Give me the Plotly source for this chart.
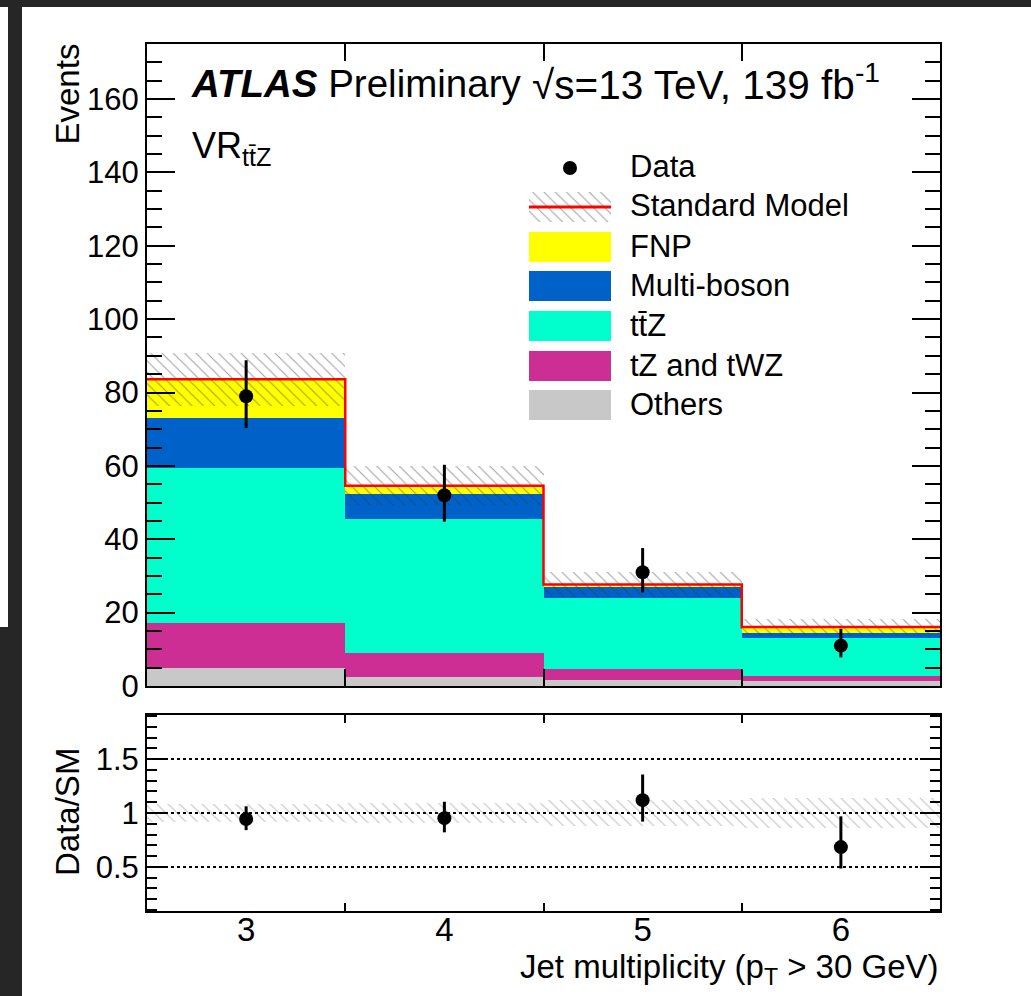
import plotly.graph_objects as go

# ---------------- data ----------------
bins = [3, 4, 5, 6]
bin_labels = ["3", "4", "5", "6"]
others = [5.0, 2.5, 1.6, 1.4]
tz_twz = [12.2, 6.5, 2.9, 1.3]
ttz = [42.2, 36.5, 19.6, 10.4]
multiboson = [13.6, 6.9, 2.9, 1.3]
fnp = [10.6, 2.2, 0.7, 1.7]
sm_unc = [7.2, 5.3, 3.4, 2.3]
data = [79, 52, 31, 11]
data_err_up = [9.8, 8.3, 6.6, 4.6]
data_err_dn = [8.7, 7.2, 5.5, 3.2]

y_ticks = [0, 20, 40, 60, 80, 100, 120, 140, 160]
r_ticks = [0.5, 1, 1.5]
r_tick_labels = ["0.5", "1", "1.5"]

components = [
    ("Others", others, "#c8c8c8"),
    ("tZ and tWZ", tz_twz, "#cc2e94"),
    ("tt\u0304Z", ttz, "#00ffcc"),
    ("Multi-boson", multiboson, "#0062c8"),
    ("FNP", fnp, "#ffff00"),
]

FONT = "Liberation Sans, Arial, Helvetica, sans-serif"
W, H = 1031, 996
L, R, T, B = 147, 91, 44, 85
PW, PH = W - L - R, H - T - B


def px(xp):
    return (xp - L) / PW


def py(yp):
    return (H - B - yp) / PH


fig = go.Figure()

# ---------------- main panel stack ----------------
base = [0.0] * len(bins)
for name, vals, col in components:
    fig.add_trace(go.Bar(x=bins, y=vals, base=list(base), width=1,
                         marker=dict(color=col, line=dict(width=0)),
                         xaxis="x", yaxis="y", showlegend=False, name=name))
    base = [b + v for b, v in zip(base, vals)]
total = base

HATCH_COL = "rgba(50,50,50,0.9)"
hatch = dict(shape="\\", fgcolor=HATCH_COL, bgcolor="rgba(0,0,0,0)",
             size=8, solidity=0.14, fillmode="overlay")

fig.add_trace(go.Bar(x=bins, y=[2 * e for e in sm_unc],
                     base=[t - e for t, e in zip(total, sm_unc)], width=1,
                     marker=dict(color="rgba(0,0,0,0)", line=dict(width=0), pattern=hatch),
                     xaxis="x", yaxis="y", showlegend=False))

edges = [b - 0.5 for b in bins] + [bins[-1] + 0.5]
fig.add_trace(go.Scatter(x=edges, y=total + [total[-1]], mode="lines",
                         line=dict(color="#ff0000", width=2.5, shape="hv"),
                         xaxis="x", yaxis="y", showlegend=False))

fig.add_trace(go.Scatter(x=bins, y=data, mode="markers",
                         marker=dict(color="black", size=14),
                         error_y=dict(type="data", symmetric=False, array=data_err_up,
                                      arrayminus=data_err_dn, color="black",
                                      thickness=3, width=0),
                         xaxis="x", yaxis="y", showlegend=False))

# ---------------- ratio panel ----------------
rel = [e / t for e, t in zip(sm_unc, total)]
fig.add_trace(go.Bar(x=bins, y=[2 * r for r in rel], base=[1 - r for r in rel], width=1,
                     marker=dict(color="rgba(0,0,0,0)", line=dict(width=0),
                                 pattern=dict(hatch, fgcolor="rgba(110,110,110,0.85)")),
                     xaxis="x2", yaxis="y2", showlegend=False))
ratio = [d / t for d, t in zip(data, total)]
fig.add_trace(go.Scatter(x=bins, y=ratio, mode="markers",
                         marker=dict(color="black", size=14),
                         error_y=dict(type="data", symmetric=False,
                                      array=[u / t for u, t in zip(data_err_up, total)],
                                      arrayminus=[d / t for d, t in zip(data_err_dn, total)],
                                      color="black", thickness=3, width=0),
                         xaxis="x2", yaxis="y2", showlegend=False))

# ---------------- legend (drawn on a pixel-coordinate overlay) ----------------
leg_rows = [168, 207, 247, 286, 326, 366, 405]
leg_names = ["Data", "Standard Model", "FNP", "Multi-boson", "tt\u0304Z", "tZ and tWZ", "Others"]
box_x0, box_x1 = 529, 611
fig.add_trace(go.Scatter(x=[570], y=[leg_rows[0]], mode="markers",
                         marker=dict(color="black", size=14),
                         xaxis="x3", yaxis="y3", showlegend=False, hoverinfo="skip"))
yc = leg_rows[1]
fig.add_trace(go.Scatter(x=[box_x0, box_x1, box_x1, box_x0, box_x0],
                         y=[yc - 15, yc - 15, yc + 15, yc + 15, yc - 15],
                         mode="lines", fill="toself", fillcolor="rgba(0,0,0,0)",
                         fillpattern=dict(shape="\\", fgcolor=HATCH_COL,
                                          size=8, solidity=0.14),
                         line=dict(width=0, color="rgba(0,0,0,0)"),
                         xaxis="x3", yaxis="y3", showlegend=False, hoverinfo="skip"))
fig.add_trace(go.Scatter(x=[box_x0, box_x1], y=[yc, yc], mode="lines",
                         line=dict(color="#ff0000", width=3),
                         xaxis="x3", yaxis="y3", showlegend=False, hoverinfo="skip"))

shapes = []
leg_colors = {n: c for n, _, c in components}
for name, yrow in zip(leg_names[2:], leg_rows[2:]):
    shapes.append(dict(type="rect", xref="x3", yref="y3", x0=box_x0, x1=box_x1,
                       y0=yrow - 15, y1=yrow + 15, fillcolor=leg_colors[name],
                       line=dict(width=0), layer="above"))

# background (screenshot frame)
shapes.insert(0, dict(type="rect", xref="paper", yref="paper", x0=px(22), x1=px(W),
                      y0=py(H), y1=py(7), fillcolor="white", line=dict(width=0), layer="below"))
shapes.insert(0, dict(type="rect", xref="paper", yref="paper", x0=px(0), x1=px(8),
                      y0=py(627), y1=py(7), fillcolor="white", line=dict(width=0), layer="below"))

annotations = []
for name, yrow in zip(leg_names, leg_rows):
    annotations.append(dict(text=name, xref="paper", yref="paper", x=px(628), y=py(yrow - 1),
                            xanchor="left", yanchor="middle", showarrow=False,
                            font=dict(family=FONT, size=31, color="black")))

annotations += [
    dict(text="<b><i>ATLAS</i></b> Preliminary", xref="paper", yref="paper",
         x=px(189), y=py(84), xanchor="left", yanchor="middle", showarrow=False,
         font=dict(family=FONT, size=38.5, color="black")),
    dict(text="\u221As=13 TeV, 139 fb<sup>-1</sup>", xref="paper", yref="paper",
         x=px(530), y=py(82), xanchor="left", yanchor="middle", showarrow=False,
         font=dict(family=FONT, size=40.5, color="black")),
    dict(text="VR<sub>tt\u0304Z</sub>", xref="paper", yref="paper",
         x=px(190), y=py(148), xanchor="left", yanchor="middle", showarrow=False,
         font=dict(family=FONT, size=36, color="black")),
    dict(text="Events", xref="paper", yref="paper", x=px(67), y=py(42),
         xanchor="center", yanchor="top", textangle=-90, showarrow=False,
         font=dict(family=FONT, size=33, color="black")),
    dict(text="Data/SM", xref="paper", yref="paper", x=px(67), y=py(812),
         xanchor="center", yanchor="middle", textangle=-90, showarrow=False,
         font=dict(family=FONT, size=33, color="black")),
    dict(text="Jet multiplicity (p<sub>T</sub> &gt; 30 GeV)", xref="paper", yref="paper",
         x=px(941), y=py(969), xanchor="right", yanchor="middle", showarrow=False,
         font=dict(family=FONT, size=33, color="black")),
]

axis_common = dict(showline=True, linecolor="black", linewidth=2, mirror="ticks",
                   tickcolor="black", tickwidth=2, zeroline=False, showgrid=False,
                   tickfont=dict(family=FONT, size=31, color="black"))
edge_vals = [b + 0.5 for b in bins[:-1]]

main_dom = [py(686), 1.0]
ratio_dom = [0.0, py(715)]

fig.update_layout(
    width=W, height=H,
    margin=dict(l=L, r=R, t=T, b=B),
    paper_bgcolor="#262626", plot_bgcolor="rgba(0,0,0,0)",
    barmode="overlay", bargap=0,
    showlegend=False,
    xaxis=dict(axis_common, domain=[0, 1], anchor="y", range=[2.5, 6.5],
               tickmode="array", tickvals=bins, ticks="", showticklabels=False,
               minor=dict(tickmode="array", tickvals=edge_vals, ticks="inside",
                          ticklen=17, tickwidth=2, tickcolor="black")),
    yaxis=dict(axis_common, domain=main_dom, anchor="x", range=[0, 175],
               tickmode="array", tickvals=y_ticks, ticks="inside", ticklen=28,
               minor=dict(dtick=5, tick0=0, ticks="inside", ticklen=15,
                          tickwidth=2, tickcolor="black")),
    xaxis2=dict(axis_common, domain=[0, 1], anchor="y2", range=[2.5, 6.5],
                tickmode="array", tickvals=bins, ticktext=bin_labels, ticks="",
                ticklabelstandoff=-12,
                tickfont=dict(family=FONT, size=33, color="black"),
                minor=dict(tickmode="array", tickvals=edge_vals, ticks="inside",
                           ticklen=8, tickwidth=2, tickcolor="black")),
    yaxis2=dict(axis_common, domain=ratio_dom, anchor="x2", range=[0.09, 1.91],
                tickmode="array", tickvals=r_ticks, ticktext=r_tick_labels,
                ticks="inside", ticklen=20,
                showgrid=True, gridcolor="black", gridwidth=1.5, griddash="dot",
                minor=dict(dtick=0.1, tick0=0, ticks="inside", ticklen=10,
                           tickwidth=2, tickcolor="black")),
    xaxis3=dict(domain=[0, 1], anchor="y3", range=[L, W - R], visible=False, fixedrange=True),
    yaxis3=dict(domain=[0, 1], anchor="x3", range=[H - B, T], visible=False, fixedrange=True),
    shapes=shapes,
    annotations=annotations,
)

fig.write_html("out.html",
               config={"displayModeBar": False},
               post_script="document.body.style.margin='0px';"
                           "document.body.style.overflow='hidden';"
                           "document.documentElement.style.overflow='hidden';")
